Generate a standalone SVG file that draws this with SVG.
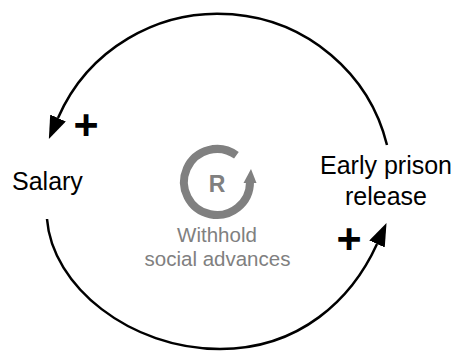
<svg xmlns="http://www.w3.org/2000/svg" width="458" height="351" viewBox="0 0 458 351">
  <style>
    .node { font-family: "Liberation Sans", Arial, sans-serif; font-size: 25px; fill: #000; }
    .loop { font-family: "Liberation Sans", Arial, sans-serif; font-size: 20.5px; fill: #808080; }
    .pol { font-family: "Liberation Sans", Arial, sans-serif; font-size: 43px; font-weight: bold; fill: #000; }
    .link { fill: none; stroke: #000; stroke-width: 2.5; }
  </style>
  <defs>
    <marker id="arrow" markerUnits="userSpaceOnUse" markerWidth="26" markerHeight="20" refX="0" refY="8.5" orient="auto">
      <path d="M0,0 L23,8.5 L0,17 z" fill="#000"/>
    </marker>
  </defs>
  <rect width="458" height="351" fill="#fff"/>
  <g id="connectors">
    <path class="link" d="M387,145 A174 172 0 0 0 58,118" marker-end="url(#arrow)"/>
    <path class="link" d="M47,219 C52,286 130,349 220,349 C300,349 352,299 377,244" marker-end="url(#arrow)"/>
    <text class="pol" x="86" y="139" text-anchor="middle">+</text>
    <text class="pol" x="349" y="253" text-anchor="middle">+</text>
  </g>
  <g id="salary">
    <text class="node" x="12" y="190">Salary</text>
  </g>
  <g id="early-prison-release">
    <text class="node" x="386" y="174" text-anchor="middle">Early prison</text>
    <text class="node" x="386" y="205" text-anchor="middle">release</text>
  </g>
  <g id="loop-r">
    <path d="M236.4,155.3 A33 33 0 1 0 250,182" fill="none" stroke="#808080" stroke-width="8"/>
    <path d="M243.5,183 L256.5,183 L251,169 z" fill="#808080"/>
    <text x="217" y="192" text-anchor="middle" font-family="Liberation Sans, Arial, sans-serif" font-size="23" font-weight="bold" fill="#808080">R</text>
    <text class="loop" x="217" y="242" text-anchor="middle">Withhold</text>
    <text class="loop" x="217.5" y="266" text-anchor="middle">social advances</text>
  </g>
</svg>
